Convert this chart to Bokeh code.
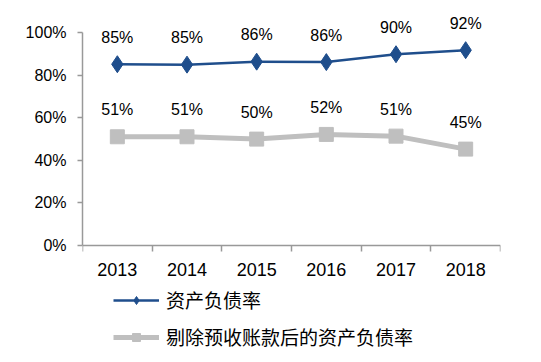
from bokeh.plotting import figure
from bokeh.models import (ColumnDataSource, LabelSet, Legend, LegendItem,
                          FixedTicker, PrintfTickFormatter, Range1d)
from bokeh.core.properties import value
from bokeh.embed import file_html
from bokeh.resources import INLINE

years = ["2013", "2014", "2015", "2016", "2017", "2018"]
debt_ratio = [85.2, 85.0, 86.4, 86.2, 89.9, 91.8]
adj_ratio = [51.1, 51.1, 50.0, 52.2, 51.4, 45.3]
y_ticks = [0, 20, 40, 60, 80, 100]
series_names = ["资产负债率", "剔除预收账款后的资产负债率"]

xs = [i + 0.5 for i in range(len(years))]

src1 = ColumnDataSource(dict(x=xs, y=debt_ratio,
                             t=[f"{v:.0f}%" for v in debt_ratio]))
src2 = ColumnDataSource(dict(x=xs, y=adj_ratio,
                             t=[f"{v:.0f}%" for v in adj_ratio]))

BLUE = "#1f4e8c"
GRAY = "#bfbfbf"
AXIS = "#999999"

p = figure(width=525, height=355, frame_width=418, frame_height=340,
           output_backend="svg", toolbar_location=None,
           x_range=Range1d(0, len(years)), y_range=Range1d(-51.7, 108.1),
           min_border_left=82, min_border_right=25, min_border_top=15,
           min_border_bottom=0)
p.outline_line_color = None
p.xgrid.visible = False
p.ygrid.visible = False

l1 = p.line("x", "y", source=src1, line_color=BLUE, line_width=2.5)
m1 = p.scatter("x", "y", source=src1, marker="diamond", size=17,
               fill_color=BLUE, line_color=BLUE)
l2 = p.line("x", "y", source=src2, line_color=GRAY, line_width=5)
m2 = p.scatter("x", "y", source=src2, marker="square", size=14,
               fill_color=GRAY, line_color=GRAY)

for s in (src1, src2):
    p.add_layout(LabelSet(x="x", y="y", text="t", source=s, y_offset=27,
                          text_align="center", text_baseline="middle",
                          text_font=value("Liberation Sans"),
                          text_font_size=value("16px"),
                          text_color="#000000"))

# x axis drawn at y = 0: labels at category centers, ticks at boundaries
p.xaxis.fixed_location = 0
p.xaxis.ticker = FixedTicker(ticks=xs, minor_ticks=list(range(len(years) + 1)))
p.xaxis.major_label_overrides = {x: y for x, y in zip(xs, years)}
p.xaxis.major_tick_line_color = None
p.xaxis.minor_tick_in = 0
p.xaxis.minor_tick_out = 6
p.xaxis.minor_tick_line_color = AXIS
p.xaxis.minor_tick_line_width = 1.5
p.xaxis.axis_line_color = AXIS
p.xaxis.axis_line_width = 1.5
p.xaxis.major_label_text_font = "Liberation Sans"
p.xaxis.major_label_text_font_size = "18px"
p.xaxis.major_label_text_color = "#000000"
p.xaxis.major_label_standoff = 11

p.yaxis.ticker = FixedTicker(ticks=y_ticks)
p.yaxis.bounds = (0, 100)
p.yaxis.formatter = PrintfTickFormatter(format="%d%%")
p.yaxis.minor_tick_line_color = None
p.yaxis.major_tick_in = 0
p.yaxis.major_tick_out = 5
p.yaxis.major_tick_line_color = AXIS
p.yaxis.major_tick_line_width = 1.5
p.yaxis.axis_line_color = AXIS
p.yaxis.axis_line_width = 1.5
p.yaxis.major_label_text_font = "Liberation Sans"
p.yaxis.major_label_text_font_size = "16px"
p.yaxis.major_label_text_color = "#000000"
p.yaxis.major_label_standoff = 11

legend = Legend(items=[LegendItem(label=series_names[0], renderers=[l1, m1]),
                       LegendItem(label=series_names[1], renderers=[l2, m2])],
                location=(31, 5), orientation="vertical",
                glyph_width=46, glyph_height=20, label_height=20,
                label_standoff=7, spacing=10, padding=0, margin=0,
                label_text_font="Noto Sans CJK SC", label_text_font_size="19px",
                label_text_color="#000000", border_line_color=None,
                background_fill_alpha=0)
p.add_layout(legend, "center")

open("out.html", "w").write(file_html(p, INLINE))
